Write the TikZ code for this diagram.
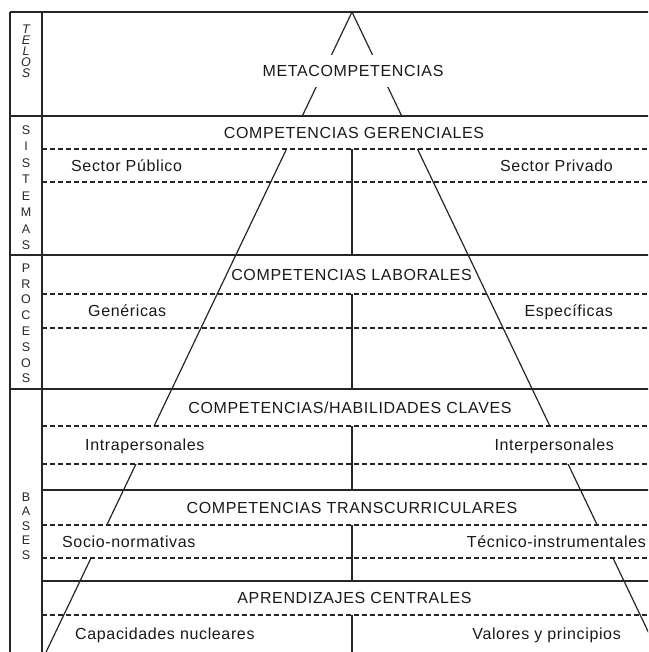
\documentclass[tikz,border=0pt]{standalone}
\usepackage{fontspec}
\setmainfont{Liberation Sans}
\newfontfamily\lblfont{Liberation Sans}[LetterSpace=4]
\begin{document}
\begin{tikzpicture}[x=1pt,y=-1pt,
  lbl/.style={font=\lblfont\fontsize{16}{16}\selectfont, inner xsep=1pt, inner ysep=0pt, text height=11.5pt, text depth=0pt, text=black!90},
  cover/.style={fill=white},
  rulel/.style={line width=1.2pt, draw=black!85},
  border/.style={line width=1.6pt, draw=black!85},
  dashrule/.style={line width=1.1pt, draw=black!85, dash pattern=on 5pt off 3pt},
  sidel/.style={font=\fontsize{12.5}{12.5}\selectfont, inner sep=0pt, text=black!85}
]
\useasboundingbox (0,0) rectangle (648,652);
\clip (0,0) rectangle (648,652);

% pyramid
\coordinate (apex) at (352,12);
\coordinate (baseL) at (46.1,652);
\coordinate (baseR) at (657.9,652);
\draw[rulel] (baseL) -- (apex) -- (baseR);

% titles
\node[lbl,cover,minimum height=32pt] (meta) at (353,71) {METACOMPETENCIAS};
\node[lbl,cover,minimum height=33pt] (gerenc) at (354,132.5) {COMPETENCIAS GERENCIALES};
\node[lbl] (labor) at (351.5,274.5) {COMPETENCIAS LABORALES};
\node[lbl,cover] (claves) at (350,407.5) {COMPETENCIAS/HABILIDADES CLAVES};
\node[lbl,cover] (transc) at (352,507.5) {COMPETENCIAS TRANSCURRICULARES};
\node[lbl,cover] (aprend) at (354.5,598) {APRENDIZAJES CENTRALES};

% sub labels
\node[lbl,cover,minimum height=33pt,anchor=west] (publico) at (70,165.5) {Sector Público};
\node[lbl,cover,minimum height=33pt,anchor=east] (privado) at (614,165.5) {Sector Privado};
\node[lbl,cover,minimum height=34pt,anchor=west] (genericas) at (87,311) {Genéricas};
\node[lbl,cover,minimum height=34pt,anchor=east] (especificas) at (614,311) {Específicas};
\node[lbl,cover,minimum height=38pt,anchor=west] (intra) at (84,445) {Intrapersonales};
\node[lbl,cover,minimum height=38pt,anchor=east] (inter) at (615,445) {Interpersonales};
\node[lbl,cover,minimum height=33pt,anchor=west] (socio) at (61,541.5) {Socio-normativas};
\node[lbl,cover,minimum height=33pt,anchor=east] (tecnico) at (647,541.5) {Técnico-instrumentales};
\node[lbl,cover,anchor=west] (capac) at (74,634) {Capacidades nucleares};
\node[lbl,cover,anchor=east] (valores) at (622,634) {Valores y principios};

% solid rules
\draw[border] (10,12) -- (660,12);
\draw[rulel] (10,116) -- (660,116);
\draw[rulel] (10,255) -- (660,255);
\draw[rulel] (10,389) -- (660,389);
\draw[rulel] (42,490) -- (660,490);
\draw[rulel] (42,581) -- (660,581);

% dashed rules
\foreach \yy in {149,182,294,328,426,464,525,558,615}
  \draw[dashrule] (42,\yy) -- (660,\yy);

% centre dividers
\draw[rulel] (352,149) -- (352,255);
\draw[rulel] (352,294) -- (352,389);
\draw[rulel] (352,426) -- (352,490);
\draw[rulel] (352,525) -- (352,581);
\draw[rulel] (352,615) -- (352,660);

% left column borders
\draw[border] (10,12) -- (10,660);
\draw[border] (42,12) -- (42,660);

% vertical words
\foreach \ch [count=\i from 0] in {T,E,L,O,S}
  \node[sidel,font=\fontsize{12.5}{12.5}\selectfont\itshape] (telos-\i) at (26,{29+11*\i}) {\ch};
\foreach \ch [count=\i from 0] in {S,I,S,T,E,M,A,S}
  \node[sidel] (sist-\i) at (26,{130+16.5*\i}) {\ch};
\foreach \ch [count=\i from 0] in {P,R,O,C,E,S,O,S}
  \node[sidel] (proc-\i) at (26,{268+15.8*\i}) {\ch};
\foreach \ch [count=\i from 0] in {B,A,S,E,S}
  \node[sidel] (bases-\i) at (26,{497+14.5*\i}) {\ch};
\end{tikzpicture}
\end{document}
